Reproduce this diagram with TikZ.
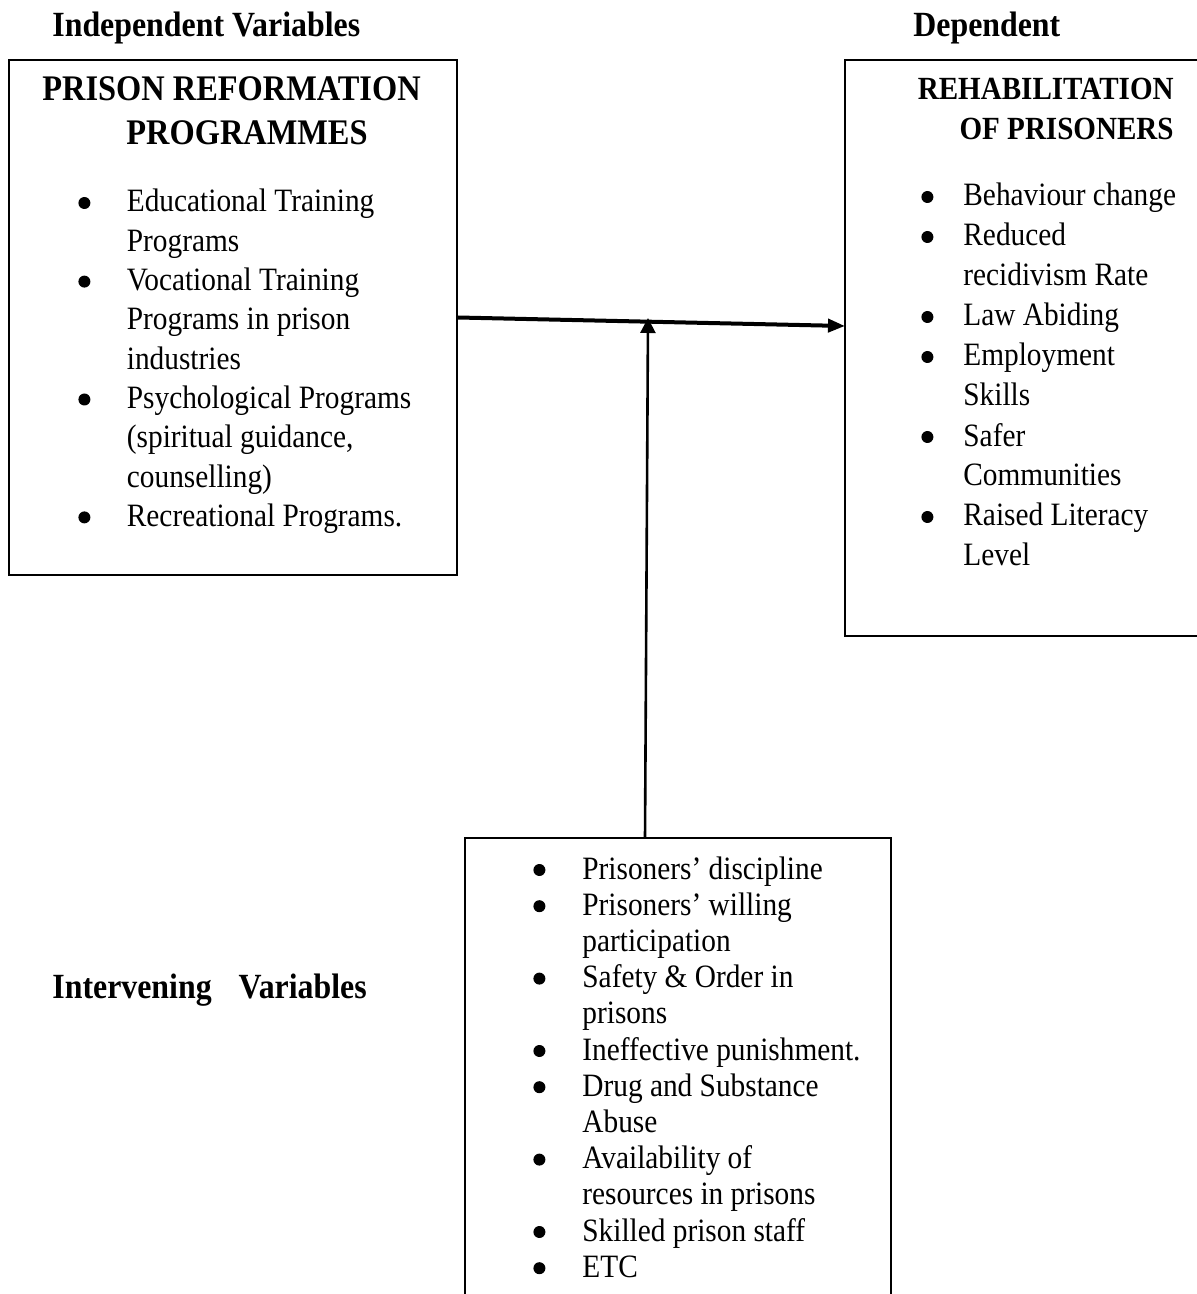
\documentclass[tikz,border=0pt]{standalone}
\usepackage{fontspec}
\setmainfont{Liberation Serif}[FakeStretch=0.9]
\usetikzlibrary{arrows.meta}

\newcommand{\titlefont}{\bfseries\fontsize{17.7}{22}\selectfont}
\newcommand{\progfont}{\bfseries\fontsize{18}{22}\selectfont}
\newcommand{\rehabfont}{\bfseries\fontsize{16.15}{20}\selectfont}
\newcommand{\blt}{\makebox[0pt][c]{\raisebox{1.5pt}{\tikz\fill (0,0) circle (3pt);}}}

\begin{document}
\begin{tikzpicture}[x=0.5pt,y=-0.5pt,
  box/.style={draw,line width=1pt,inner sep=0pt},
  txt/.style={inner sep=0pt,anchor=base west},
  mainlink/.style={line width=2pt,-{Triangle[length=8.5pt,width=6.5pt]}},
  modlink/.style={line width=1.3pt,-{Triangle[length=7.5pt,width=7.5pt]}}]
  \useasboundingbox (0,0) rectangle (1197,1294);
  \clip (0,0) rectangle (1197,1294);
  % titles
  \node[txt,font=\titlefont] (indep) at (52,37) {Independent Variables};
  \node[txt,font=\titlefont] (dep) at (913,37) {Dependent};
  \node[txt,font=\titlefont] (inter) at (52,998) {Intervening\hspace{13.5pt}Variables};
  % boxes
  \node[box,minimum width=224pt,minimum height=257.5pt] (prog) at (233,317.5) {};
  \node[box,minimum width=185pt,minimum height=288pt] (rehab) at (1030,348) {};
  \node[box,minimum width=213pt,minimum height=241pt] (intv) at (678,1079) {};
  % box headings
  \node[txt,font=\progfont] (progtitle) at (42,101)
    {\begin{tabular}[t]{@{}l@{}}PRISON REFORMATION\\\hspace*{42pt}PROGRAMMES\end{tabular}};
  \node[txt,anchor=base east,font=\rehabfont] (rehabtitle) at (1174,100)
    {\begin{tabular}[t]{@{}r@{}}REHABILITATION\\OF PRISONERS\end{tabular}};
  % lists
  \node[txt,font=\fontsize{16.3}{19.65}\selectfont] (proglist) at (84,212)
    {\begin{tabular}[t]{@{}p{21.25pt}@{}p{300pt}@{}}
      \blt & Educational Training\newline Programs\\
      \blt & Vocational Training\newline Programs in prison\newline industries\\
      \blt & Psychological Programs\newline (spiritual guidance,\newline counselling)\\
      \blt & Recreational Programs.
    \end{tabular}};
  \node[txt,font=\fontsize{16.3}{20}\selectfont] (rehablist) at (927,206)
    {\begin{tabular}[t]{@{}p{18pt}@{}p{300pt}@{}}
      \blt & Behaviour change\\
      \blt & Reduced\newline recidivism Rate\\
      \blt & Law Abiding\\
      \blt & Employment\newline Skills\\
      \blt & Safer\newline Communities\\
      \blt & Raised Literacy\newline Level
    \end{tabular}};
  \node[txt,font=\fontsize{16.3}{18.1}\selectfont] (intvlist) at (539,879)
    {\begin{tabular}[t]{@{}p{21.5pt}@{}p{300pt}@{}}
      \blt & Prisoners’ discipline\\
      \blt & Prisoners’ willing\newline participation\\
      \blt & Safety \& Order in\newline prisons\\
      \blt & Ineffective punishment.\\
      \blt & Drug and Substance\newline Abuse\\
      \blt & Availability of\newline resources in prisons\\
      \blt & Skilled prison staff\\
      \blt & ETC
    \end{tabular}};
  % connectors
  \coordinate (rin) at (845,326);
  \coordinate (vfoot) at (645,838);
  \coordinate (vtip) at (648,318);
  \draw[mainlink] (prog.east) -- (rin);
  \draw[modlink] (vfoot) -- (vtip);
\end{tikzpicture}
\end{document}
